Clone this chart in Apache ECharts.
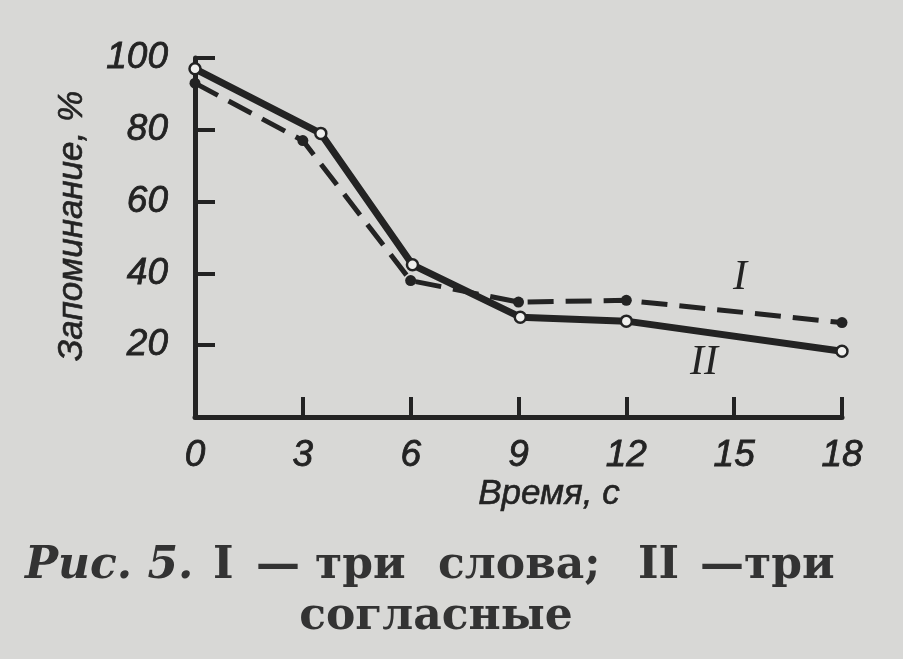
<!DOCTYPE html>
<html><head><meta charset="utf-8">
<script src="https://cdn.jsdelivr.net/npm/echarts@6/dist/echarts.min.js"></script>
<style>html,body{margin:0;padding:0;background:#d8d8d6;}#c{width:903px;height:659px;}</style>
</head><body><div id="c"></div>
<script>
const xTicks = [0, 3, 6, 9, 12, 15, 18];
const yTicks = [20, 40, 60, 80, 100];
const seriesIx = [0, 3, 6, 9, 12, 18];
const seriesIy = [93, 77, 38, 32, 32.5, 26.3];
const seriesIIx = [0, 3.5, 6.05, 9.05, 12, 18];
const seriesIIy = [97, 79, 42.4, 27.8, 26.7, 18.3];
const nameI = 'I';
const nameII = 'II';
const xTitle = 'Время, с';
const yTitle = 'Запоминание, %';
const captionParts = [
  {text: 'Рис. 5.', x: 25, italic: true},
  {text: 'I', x: 213},
  {text: '—', x: 256},
  {text: 'три', x: 315},
  {text: 'слова;', x: 438},
  {text: 'II', x: 638},
  {text: '—три', x: 700}
];
const caption2 = 'согласные';

const ink = '#232323';
const labelFont = {color: ink, fontFamily: 'Liberation Sans', fontStyle: 'italic', fontSize: 37,
  textBorderColor: ink, textBorderWidth: 0.8};
const chart = echarts.init(document.getElementById('c'));
const graphics = [
  {type: 'text', x: 733, y: 278, style: {text: nameI, font: 'italic 42px "Liberation Serif"', fill: ink, verticalAlign: 'middle'}},
  {type: 'text', x: 690, y: 363, style: {text: nameII, font: 'italic 42px "Liberation Serif"', fill: ink, verticalAlign: 'middle'}},
  {type: 'text', x: 549, y: 494, style: {text: xTitle, font: 'italic 35px "Liberation Sans"', fill: ink,
    align: 'center', verticalAlign: 'middle', stroke: ink, lineWidth: 0.6}},
  {type: 'text', x: 72, y: 226, rotation: Math.PI / 2, style: {text: yTitle, font: 'italic 35px "Liberation Sans"', fill: ink,
    align: 'center', verticalAlign: 'middle', stroke: ink, lineWidth: 0.6}},
  {type: 'text', x: 436, y: 618, style: {text: caption2, font: 'bold 44px "DejaVu Serif"', fill: '#333',
    align: 'center', verticalAlign: 'middle'}}
];
captionParts.forEach(p => graphics.push({type: 'text', x: p.x, y: 567, style: {
  text: p.text, font: (p.italic ? 'italic ' : '') + 'bold 44px "DejaVu Serif"', fill: '#333', verticalAlign: 'middle'}}));

chart.setOption({
  backgroundColor: '#d8d8d6',
  animation: false,
  grid: {left: 195, right: 61, top: 58, bottom: 242},
  xAxis: {
    type: 'value', min: 0, max: 18, interval: 3,
    axisLine: {lineStyle: {color: ink, width: 5}},
    axisTick: {inside: true, length: 20, lineStyle: {color: ink, width: 4}},
    axisLabel: Object.assign({margin: 20}, labelFont),
    splitLine: {show: false}
  },
  yAxis: {
    type: 'value', min: 0, max: 100, interval: 20,
    axisLine: {show: true, lineStyle: {color: ink, width: 5}},
    axisTick: {show: true, inside: true, length: 20, lineStyle: {color: ink, width: 4}},
    axisLabel: Object.assign({margin: 27, formatter: v => yTicks.indexOf(v) >= 0 ? String(v) : ''}, labelFont),
    splitLine: {show: false}
  },
  series: [
    {
      name: nameI, type: 'line', data: seriesIx.map((x, i) => [x, seriesIy[i]]),
      lineStyle: {color: ink, width: 5, type: [26, 12]},
      symbol: 'circle', symbolSize: 11, itemStyle: {color: ink},
      z: 2
    },
    {
      name: nameII, type: 'line', data: seriesIIx.map((x, i) => [x, seriesIIy[i]]),
      lineStyle: {color: ink, width: 7},
      symbol: 'circle', symbolSize: 11, itemStyle: {color: '#f0f0ee', borderColor: ink, borderWidth: 2.5},
      z: 3
    }
  ],
  graphic: graphics
});
</script></body></html>
